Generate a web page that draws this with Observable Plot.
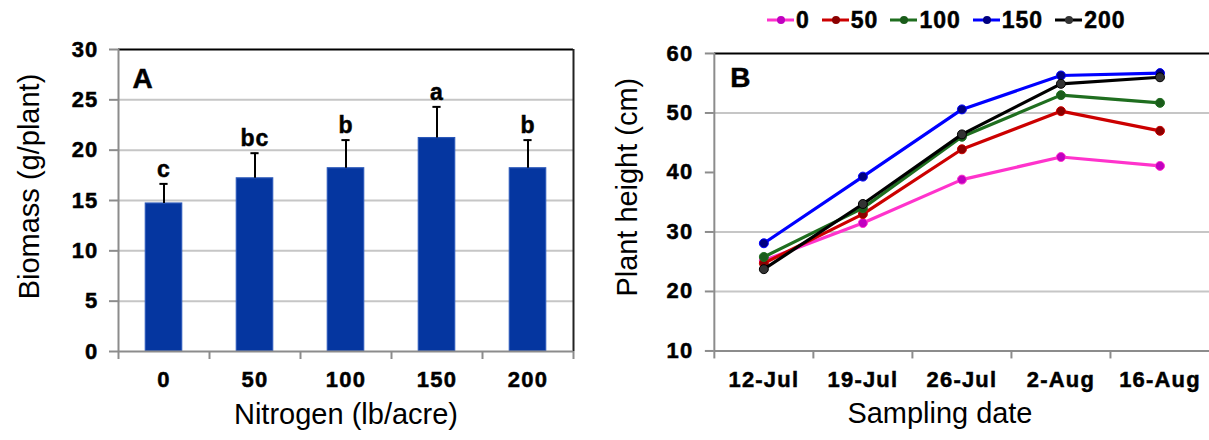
<!DOCTYPE html>
<html><head><meta charset="utf-8">
<script src="https://cdn.jsdelivr.net/npm/d3@7"></script>
<script src="https://cdn.jsdelivr.net/npm/@observablehq/plot@0.6"></script>
<style>
body{margin:0;background:#fff;font-family:"Liberation Sans",Arial,sans-serif;}
#wrap{position:relative;display:flex;width:1209px;height:440px;overflow:hidden}
#a{width:620px;height:440px}
#b{width:589px;height:440px;padding-top:36px;box-sizing:border-box}
#legend{position:absolute;left:767px;top:5px;display:flex;align-items:center;gap:12px;font-weight:bold;font-size:23px;line-height:30px;letter-spacing:1px}
#legend span{-webkit-text-stroke:0.5px black}
#legend .it{display:flex;align-items:center;gap:2px}
svg{overflow:visible}
</style></head><body>
<div id="wrap"><div id="a"></div><div id="b"></div><div id="legend"></div></div>
<script>
// ---- Panel A data ----
const nitrogen = ["0", "50", "100", "150", "200"];
const biomass = [14.7, 17.2, 18.2, 21.2, 18.2];
const biomassErr = [1.95, 2.5, 2.8, 3.1, 2.8];
const letters = ["c", "bc", "b", "a", "b"];
const biomassTicks = [0, 5, 10, 15, 20, 25, 30];

// ---- Panel B data ----
const dates = ["12-Jul", "19-Jul", "26-Jul", "2-Aug", "16-Aug"];
const heightTicks = [10, 20, 30, 40, 50, 60];
const heightGrid = [20, 30, 50];
const rates = ["0", "50", "100", "150", "200"];
const height0 = [25.2, 31.5, 38.8, 42.6, 41.1];
const height50 = [24.75, 33.0, 43.9, 50.3, 47.0];
const height100 = [25.8, 34.0, 46.0, 53.0, 51.7];
const height150 = [28.1, 39.3, 50.6, 56.3, 56.7];
const height200 = [23.75, 34.7, 46.4, 54.9, 56.0];
const lineColors = ["#ff33cc", "#cc0000", "#1f6e1f", "#0000ff", "#000000"];
const dotColors = ["#c000c0", "#8b0000", "#1a5c1a", "#000080", "#333333"];

const FONT = "Liberation Sans, Arial, sans-serif";
const AXIS_GRAY = "#8c8c8c";
const GRID = "#c6c6c6";
const TICK_FS = 22;
const TITLE_FS = 29;

// ---- Panel A ----
const A = nitrogen.map((n, i) => ({i, n, v: biomass[i], e: biomassErr[i], l: letters[i]}));
const plotA = Plot.plot({
  width: 620, height: 440,
  marginLeft: 118, marginRight: 47, marginTop: 49, marginBottom: 89,
  style: {fontFamily: FONT, background: "white", color: "black"},
  x: {domain: [-0.5, 4.5], axis: null},
  y: {domain: [0, 30], axis: null},
  marks: [
    Plot.ruleY(biomassTicks.filter(t => t > 0 && t < 30), {stroke: GRID, strokeWidth: 2}),
    Plot.rectY(A, {x1: d => d.i - 0.2, x2: d => d.i + 0.2, y1: 0, y2: "v", fill: "#0536a0", stroke: "#2a57b8", strokeWidth: 1.2}),
    Plot.ruleX(A, {x: "i", y1: "v", y2: d => d.v + d.e, stroke: "black", strokeWidth: 2}),
    Plot.ruleY(A, {y: d => d.v + d.e, x1: d => d.i - 0.045, x2: d => d.i + 0.045, stroke: "black", strokeWidth: 2}),
    Plot.text(A, {x: "i", y: d => d.v + d.e, text: "l", lineAnchor: "bottom", dy: -7, fontSize: 23, fontWeight: "bold", className: "heavy"}),
    Plot.ruleY([30], {stroke: "black", strokeWidth: 2}),
    Plot.ruleX([4.5], {stroke: "#222", strokeWidth: 2}),
    Plot.ruleX([-0.5], {stroke: AXIS_GRAY, strokeWidth: 2}),
    Plot.ruleY([0], {stroke: AXIS_GRAY, strokeWidth: 2}),
    Plot.axisY({ticks: biomassTicks, tickSize: 9, tickPadding: 11, stroke: AXIS_GRAY, strokeWidth: 2, fill: "black", fontSize: TICK_FS, fontWeight: "bold", label: null, className: "heavy"}),
    Plot.axisX({ticks: d3.range(-0.5, 5, 1), tickSize: 8, tickFormat: () => "", stroke: AXIS_GRAY, strokeWidth: 2, label: null}),
    Plot.axisX({ticks: d3.range(nitrogen.length), tickSize: 0, tickPadding: 20, tickFormat: i => nitrogen[i], fill: "black", fontSize: TICK_FS, fontWeight: "bold", label: null, className: "heavy"}),
    Plot.text(["A"], {frameAnchor: "top-left", dx: 14, dy: 19, lineAnchor: "top", fontSize: 28, fontWeight: "bold", className: "heavy"}),
    Plot.text(["Biomass (g/plant)"], {frameAnchor: "left", textAnchor: "middle", rotate: -90, dx: -89, dy: -14, fontSize: TITLE_FS}),
    Plot.text(["Nitrogen (lb/acre)"], {x: 2, frameAnchor: "bottom", dy: 72, fontSize: TITLE_FS})
  ]
});
document.getElementById("a").append(plotA);

// ---- Panel B ----
const heights = [height0, height50, height100, height150, height200];
const series = rates.map((r, k) => heights[k].map((v, i) => ({r, i, v})));
const plotB = Plot.plot({
  width: 590, height: 404,
  marginLeft: 94, marginRight: 0, marginTop: 17, marginBottom: 89,
  style: {fontFamily: FONT, background: "white", color: "black"},
  x: {domain: [-0.5, 4.5], axis: null},
  y: {domain: [10, 60], axis: null},
  marks: [
    Plot.ruleY(heightGrid, {stroke: GRID, strokeWidth: 2}),
    Plot.ruleY([60], {stroke: "black", strokeWidth: 2}),
    Plot.ruleX([-0.5], {stroke: AXIS_GRAY, strokeWidth: 2}),
    Plot.ruleY([10], {stroke: AXIS_GRAY, strokeWidth: 2}),
    Plot.axisY({ticks: heightTicks, tickSize: 9, tickPadding: 12, stroke: AXIS_GRAY, strokeWidth: 2, fill: "black", fontSize: TICK_FS, fontWeight: "bold", label: null, className: "heavy"}),
    Plot.axisX({ticks: d3.range(-0.5, 4, 1), tickSize: 8, tickFormat: () => "", stroke: AXIS_GRAY, strokeWidth: 2, label: null}),
    Plot.axisX({ticks: d3.range(dates.length), tickSize: 0, tickPadding: 20, tickFormat: i => dates[i], fill: "black", fontSize: TICK_FS, fontWeight: "bold", label: null, className: "heavy"}),
    ...series.flatMap((s, k) => [
      Plot.line(s, {x: "i", y: "v", stroke: lineColors[k], strokeWidth: 3.2}),
      Plot.dot(s, {x: "i", y: "v", r: 4.5, fill: dotColors[k], stroke: lineColors[k], strokeWidth: 1})
    ]),
    Plot.text(["B"], {frameAnchor: "top-left", dx: 16, dy: 14, lineAnchor: "top", fontSize: 28, fontWeight: "bold", className: "heavy"}),
    Plot.text(["Plant height (cm)"], {frameAnchor: "left", textAnchor: "middle", rotate: -90, dx: -87, dy: -15, fontSize: TITLE_FS}),
    Plot.text(["Sampling date"], {frameAnchor: "bottom", dy: 72, dx: -22, fontSize: TITLE_FS})
  ]
});
document.getElementById("b").append(plotB);

// heavier, slightly wider bold text like the original
d3.selectAll("svg [class*='heavy'] text, svg text[class*='heavy']")
  .style("letter-spacing", "1.2px")
  .attr("stroke", "black").attr("stroke-width", 0.5).attr("paint-order", "stroke");

// ---- Legend ----
const legend = document.getElementById("legend");
rates.forEach((r, k) => {
  const it = document.createElement("div");
  it.className = "it";
  it.innerHTML = `<svg width="27" height="12" viewBox="0 0 27 12"><line x1="0" y1="6" x2="27" y2="6" stroke="${lineColors[k]}" stroke-width="3"/><circle cx="14" cy="6" r="4" fill="${dotColors[k]}"/></svg><span>${r}</span>`;
  legend.append(it);
});
</script>
</body></html>
